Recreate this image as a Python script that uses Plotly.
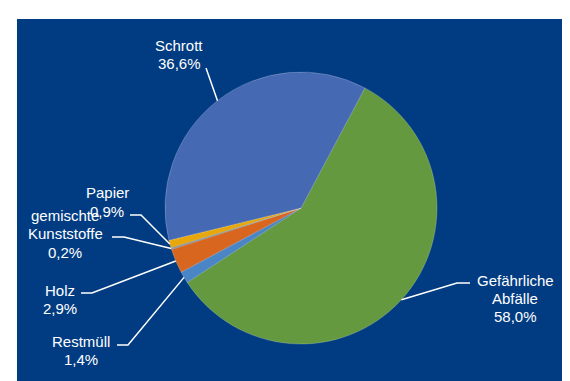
import math
import plotly.graph_objects as go

# ---- data ----
categories = ["Gefährliche Abfälle", "Restmüll", "Holz", "gemischte Kunststoffe", "Papier", "Schrott"]
values = [58.0, 1.4, 2.9, 0.2, 0.9, 36.6]
label_lines = [["Gefährliche", "Abfälle"], ["Restmüll"], ["Holz"], ["gemischte", "Kunststoffe"], ["Papier"], ["Schrott"]]
colors = ["#64993F", "#4A86C5", "#D9661F", "#8C8C8C", "#E8A70A", "#4669B3"]

# ---- layout geometry (pixels) ----
W, H = 570, 381
CX, CY, R = 293, 200, 136
ROT = 28
BG = "#013C82"

# label placement: (x, y of first line, line step), leader start and elbow
label_layout = [
    dict(x=507, y=272, step=18, lead=[(462, 275), (449, 275)]),
    dict(x=73, y=333, step=18, lead=[(109, 337), (120, 337)]),
    dict(x=52, y=282, step=18, lead=[(73, 285), (84, 285)]),
    dict(x=57, y=207, step=18.5, lead=[(104, 229), (116, 229)]),
    dict(x=99, y=184, step=19, lead=[(122, 207), (133, 207)]),
    dict(x=171, y=37, step=18, lead=[(198, 60)]),
]


def px(x):
    return x / W


def py(y):
    return 1 - y / H


fig = go.Figure()
fig.add_trace(go.Pie(
    labels=categories,
    values=values,
    sort=False,
    direction="clockwise",
    rotation=ROT,
    textinfo="none",
    hoverinfo="label+percent",
    marker=dict(colors=colors, line=dict(color="rgba(255,255,255,0.35)", width=0.6)),
    domain=dict(x=[(CX - R) / W, (CX + R) / W], y=[1 - (CY + R) / H, 1 - (CY - R) / H]),
    showlegend=False,
))

total = sum(values)
cum = 0.0
annotations = []
shapes = []
for name_lines, v, lay in zip(label_lines, values, label_layout):
    mid = math.radians(ROT + 360 * (cum + v / 2) / total)
    cum += v
    ex = CX + R * math.sin(mid)
    ey = CY - R * math.cos(mid)
    pct = f"{v:.1f}".replace(".", ",") + "%"
    lines = name_lines + [pct]
    for i, t in enumerate(lines):
        annotations.append(dict(
            x=px(lay["x"]), y=py(lay["y"] + i * lay["step"]), xref="paper", yref="paper",
            text=t, showarrow=False, xanchor="center", yanchor="middle",
            font=dict(family="Liberation Sans, Arial, sans-serif", size=15, color="white"),
        ))
    pts = lay["lead"] + [(ex, ey)]
    path = "M " + " L ".join(f"{px(a):.5f},{py(b):.5f}" for a, b in pts)
    shapes.append(dict(type="path", path=path, xref="paper", yref="paper",
                       line=dict(color="white", width=1.5), layer="above"))

# white strips at top and left (image border)
shapes.append(dict(type="rect", xref="paper", yref="paper", x0=0, x1=1, y0=py(11), y1=1,
                   fillcolor="white", line=dict(width=0), layer="above"))
shapes.append(dict(type="rect", xref="paper", yref="paper", x0=0, x1=px(9), y0=0, y1=1,
                   fillcolor="white", line=dict(width=0), layer="above"))

fig.update_layout(
    width=W, height=H,
    margin=dict(l=0, r=0, t=0, b=0),
    paper_bgcolor=BG,
    plot_bgcolor=BG,
    annotations=annotations,
    shapes=shapes,
)

fig.write_html("out.html")
